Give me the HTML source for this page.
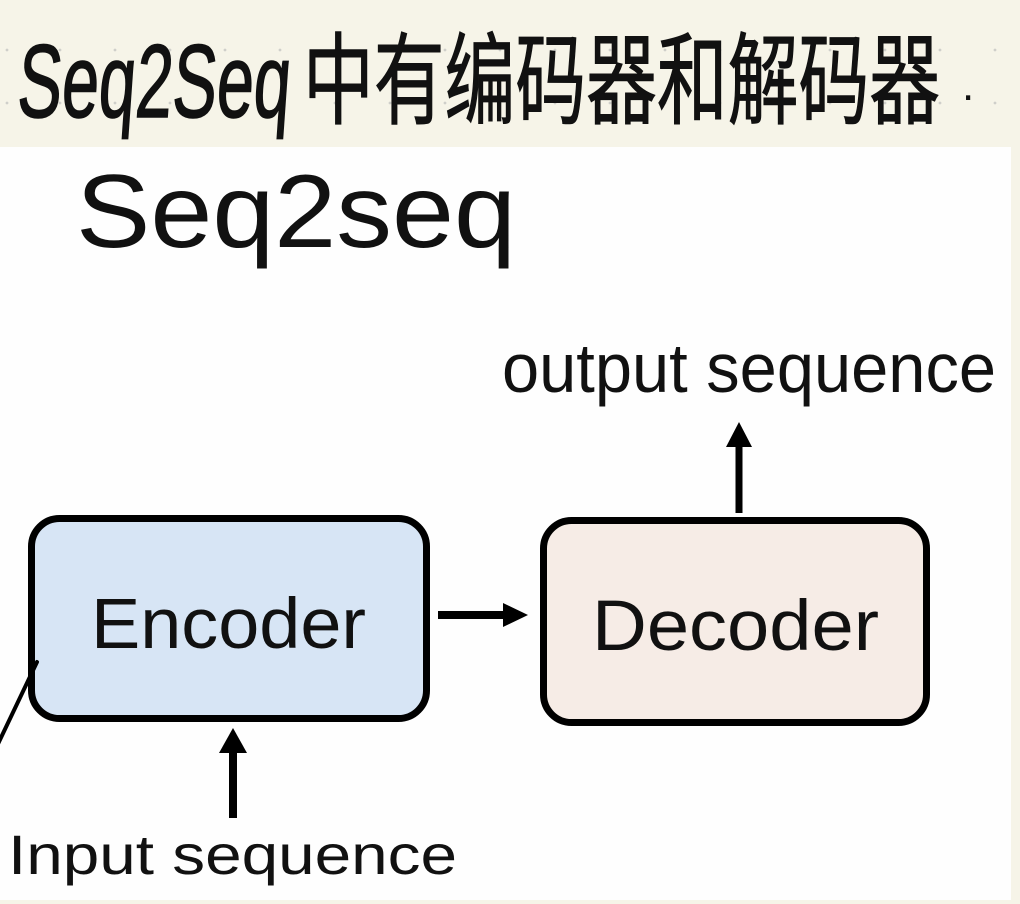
<!DOCTYPE html>
<html>
<head>
<meta charset="utf-8">
<style>
  html, body { margin:0; padding:0; background:#f6f4e8; }
  body { width:1020px; height:904px; overflow:hidden; }
  svg { display:block; }
</style>
</head>
<body>
<svg width="1020" height="904" viewBox="0 0 1020 904" xmlns="http://www.w3.org/2000/svg">
  <!-- backgrounds -->
  <rect x="0" y="0" width="1020" height="904" fill="#f6f4e8"/>
  <rect x="0" y="147" width="1011" height="753" fill="#fefefe"/>

  <!-- faint dot grid in header -->
  <g fill="#cfcfca">
    <circle cx="7" cy="50" r="1.4"/><circle cx="60" cy="50" r="1.4"/><circle cx="115" cy="50" r="1.4"/><circle cx="170" cy="50" r="1.4"/><circle cx="225" cy="50" r="1.4"/><circle cx="280" cy="50" r="1.4"/><circle cx="335" cy="50" r="1.4"/><circle cx="390" cy="50" r="1.4"/><circle cx="445" cy="50" r="1.4"/><circle cx="500" cy="50" r="1.4"/><circle cx="555" cy="50" r="1.4"/><circle cx="610" cy="50" r="1.4"/><circle cx="665" cy="50" r="1.4"/><circle cx="720" cy="50" r="1.4"/><circle cx="775" cy="50" r="1.4"/><circle cx="830" cy="50" r="1.4"/><circle cx="885" cy="50" r="1.4"/><circle cx="940" cy="50" r="1.4"/><circle cx="995" cy="50" r="1.4"/>
    <circle cx="7" cy="103" r="1.4"/><circle cx="60" cy="103" r="1.4"/><circle cx="115" cy="103" r="1.4"/><circle cx="170" cy="103" r="1.4"/><circle cx="225" cy="103" r="1.4"/><circle cx="280" cy="103" r="1.4"/><circle cx="335" cy="103" r="1.4"/><circle cx="390" cy="103" r="1.4"/><circle cx="445" cy="103" r="1.4"/><circle cx="500" cy="103" r="1.4"/><circle cx="555" cy="103" r="1.4"/><circle cx="610" cy="103" r="1.4"/><circle cx="665" cy="103" r="1.4"/><circle cx="720" cy="103" r="1.4"/><circle cx="775" cy="103" r="1.4"/><circle cx="830" cy="103" r="1.4"/><circle cx="885" cy="103" r="1.4"/><circle cx="940" cy="103" r="1.4"/><circle cx="995" cy="103" r="1.4"/>
  </g>

  <!-- handwritten header -->
  <text x="17" y="117" font-family="Liberation Sans, sans-serif" font-size="104" fill="#111" stroke="#111" stroke-width="1.5" textLength="273" lengthAdjust="spacingAndGlyphs" transform="skewX(-4) translate(7,0)">Seq2Seq</text>
  <text x="303" y="116" font-family="Liberation Sans, 'Noto Sans CJK SC', 'WenQuanYi Zen Hei', sans-serif" font-size="100" fill="#111" stroke="#111" stroke-width="1" textLength="637" lengthAdjust="spacingAndGlyphs">中有编码器和解码器</text>
  <text x="962" y="100" font-family="Liberation Sans, sans-serif" font-size="44" fill="#111">.</text>

  <!-- slide title -->
  <text x="76" y="247" font-family="Liberation Sans, sans-serif" font-size="104" fill="#111" textLength="440" lengthAdjust="spacingAndGlyphs">Seq2seq</text>

  <!-- output sequence label -->
  <text x="502" y="392" font-family="Liberation Sans, sans-serif" font-size="70" fill="#111" textLength="494" lengthAdjust="spacingAndGlyphs">output sequence</text>

  <!-- output arrow -->
  <line x1="739" y1="513" x2="739" y2="442" stroke="#000" stroke-width="7"/>
  <polygon points="739,422 752,447 726,447" fill="#000"/>

  <!-- Encoder box -->
  <rect x="31.5" y="518.5" width="395" height="200" rx="28" ry="28" fill="#d7e5f5" stroke="#000" stroke-width="7"/>
  <text x="91" y="648" font-family="Liberation Sans, sans-serif" font-size="71" fill="#111" textLength="275" lengthAdjust="spacingAndGlyphs">Encoder</text>

  <!-- Decoder box -->
  <rect x="543.5" y="520.5" width="383" height="202" rx="28" ry="28" fill="#f6ece6" stroke="#000" stroke-width="7"/>
  <text x="592" y="650" font-family="Liberation Sans, sans-serif" font-size="71" fill="#111" textLength="287" lengthAdjust="spacingAndGlyphs">Decoder</text>

  <!-- encoder -> decoder arrow -->
  <line x1="438" y1="615" x2="508" y2="615" stroke="#000" stroke-width="8"/>
  <polygon points="528,615 503,603 503,627" fill="#000"/>

  <!-- input arrow -->
  <line x1="233" y1="818" x2="233" y2="748" stroke="#000" stroke-width="8"/>
  <polygon points="233,728 247,753 219,753" fill="#000"/>

  <!-- diagonal pen line -->
  <line x1="37" y1="662" x2="-3" y2="746" stroke="#000" stroke-width="4" stroke-linecap="round"/>

  <!-- Input sequence label -->
  <text x="8" y="874" font-family="Liberation Sans, sans-serif" font-size="56" fill="#111" textLength="449" lengthAdjust="spacingAndGlyphs">Input sequence</text>
</svg>
</body>
</html>
